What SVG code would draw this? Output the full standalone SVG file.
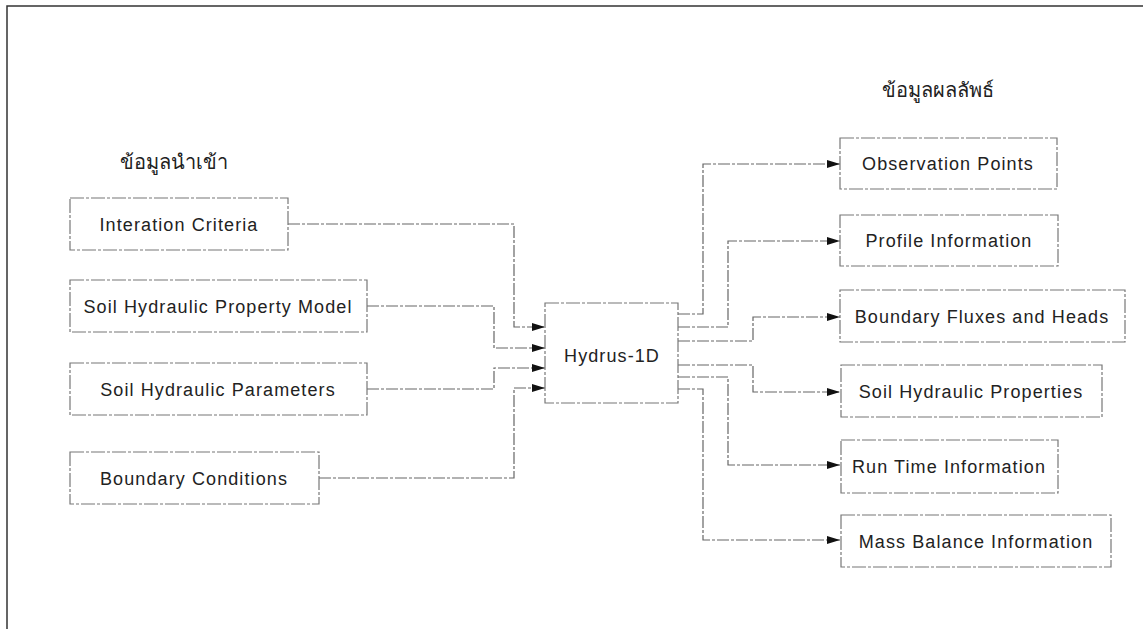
<svg xmlns="http://www.w3.org/2000/svg" width="1143" height="629" viewBox="0 0 1143 629">
<defs>
<marker id="arr" viewBox="0 0 13 8" refX="13" refY="4" markerWidth="13" markerHeight="8" markerUnits="userSpaceOnUse" orient="auto">
<path d="M0,0 L13,4 L0,8 Z" fill="#111"/>
</marker>
<style>
.box{fill:#fff;stroke:#777;stroke-width:1.2;stroke-dasharray:14 2 3 2}
.lbl{font-family:"Liberation Sans",Arial,sans-serif;font-size:18px;letter-spacing:1.1px;fill:#222;text-anchor:middle}
.ttl{font-family:"Noto Sans","Noto Sans CJK SC",sans-serif;font-size:20px;fill:#222}
.con{fill:none;stroke:#666;stroke-width:1.2;stroke-dasharray:12 2 3 2}
.frame{fill:none;stroke:#333;stroke-width:1.5}
</style>
</defs>
<rect width="1143" height="629" fill="#fff"/>
<path class="frame" d="M7,629 L7,6 L1143,6"/>
<text class="ttl" x="120" y="169">ข้อมูลนำเข้า</text>
<text class="ttl" x="882" y="97">ข้อมูลผลลัพธ์</text>
<g id="connectors">
<path class="con" d="M288,224 H514 V327 H545" marker-end="url(#arr)"/>
<path class="con" d="M367,306 H494 V348 H545" marker-end="url(#arr)"/>
<path class="con" d="M367,389 H494 V368 H545" marker-end="url(#arr)"/>
<path class="con" d="M319,478 H514 V388 H545" marker-end="url(#arr)"/>
<path class="con" d="M678,314 H703 V164 H840" marker-end="url(#arr)"/>
<path class="con" d="M678,327 H728 V241 H840" marker-end="url(#arr)"/>
<path class="con" d="M678,341 H753 V317 H840" marker-end="url(#arr)"/>
<path class="con" d="M678,365 H753 V392 H840" marker-end="url(#arr)"/>
<path class="con" d="M678,377 H728 V465 H840" marker-end="url(#arr)"/>
<path class="con" d="M678,389 H703 V540 H840" marker-end="url(#arr)"/>
</g>
<g id="n-interation"><rect class="box" x="70" y="198" width="218" height="52"/><text class="lbl" x="179" y="231">Interation Criteria</text></g>
<g id="n-shpm"><rect class="box" x="70" y="280" width="297" height="52"/><text class="lbl" x="218" y="313">Soil Hydraulic Property Model</text></g>
<g id="n-shp"><rect class="box" x="70" y="363" width="297" height="52"/><text class="lbl" x="218" y="396">Soil Hydraulic Parameters</text></g>
<g id="n-bc"><rect class="box" x="70" y="452" width="249" height="52"/><text class="lbl" x="194" y="485">Boundary Conditions</text></g>
<g id="n-hydrus"><rect class="box" x="545" y="303" width="133" height="100"/><text class="lbl" x="612" y="362">Hydrus-1D</text></g>
<g id="n-obs"><rect class="box" x="840" y="138" width="217" height="51"/><text class="lbl" x="948" y="170">Observation Points</text></g>
<g id="n-profile"><rect class="box" x="840" y="215" width="218" height="51"/><text class="lbl" x="949" y="247">Profile Information</text></g>
<g id="n-bfh"><rect class="box" x="840" y="290" width="285" height="52"/><text class="lbl" x="982" y="323">Boundary Fluxes and Heads</text></g>
<g id="n-shprop"><rect class="box" x="841" y="365" width="261" height="52"/><text class="lbl" x="971" y="398">Soil Hydraulic Properties</text></g>
<g id="n-runtime"><rect class="box" x="841" y="440" width="217" height="53"/><text class="lbl" x="949" y="473">Run Time Information</text></g>
<g id="n-mass"><rect class="box" x="841" y="515" width="270" height="52"/><text class="lbl" x="976" y="548">Mass Balance Information</text></g>
</svg>
